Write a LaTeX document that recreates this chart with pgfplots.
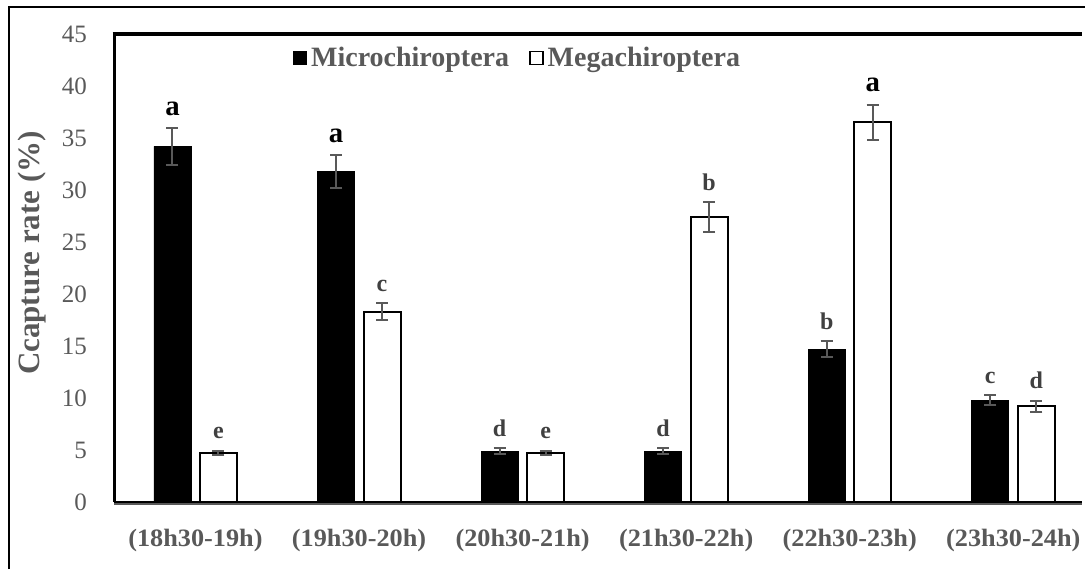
\documentclass[border=0pt]{standalone}
\usepackage{fontspec}
\setmainfont{Liberation Serif}
\usepackage{pgfplots}
\usepackage{pgfplotstable}
\pgfplotsset{compat=1.18}
\definecolor{tickgray}{HTML}{595959}
\definecolor{labgray}{HTML}{404040}
\pgfplotstableread{
x y err lab sc tk
0 34.2 1.8 a 1.2 100
1 31.8 1.6 a 1.2 100
2 4.9 0.3 d 1 75
3 4.9 0.3 d 1 75
4 14.7 0.8 b 1 75
5 9.8 0.5 c 1 75
}\micro
\pgfplotstableread{
x y err lab sc tk
0 4.7 0.2 e 1 75
1 18.3 0.8 c 1 75
2 4.7 0.2 e 1 75
3 27.4 1.4 b 1 75
4 36.5 1.7 a 1.2 100
5 9.2 0.5 d 1 75
}\mega
\begin{document}
\begin{tikzpicture}
\useasboundingbox (0,0) rectangle (542.5pt,284.5pt);
\draw[line width=1pt] (4.5pt,0) -- (4.5pt,281pt) -- (542.5pt,281pt);
\begin{axis}[
  at={(57pt,33.5pt)}, anchor=south west,
  scale only axis, width=484pt, height=234pt,
  ybar, bar width=18.5pt,
  xmin=-0.498, xmax=5.42, ymin=0, ymax=45,
  axis line style={draw=none},
  ytick={0,5,...,45},
  xtick={0,...,5},
  xticklabels={(18h30-19h),(19h30-20h),(20h30-21h),(21h30-22h),(22h30-23h),(23h30-24h)},
  major tick length=0pt,
  /pgf/number format/assume math mode=true,
  yticklabel style={font=\fontsize{12.5}{13}\selectfont, text=tickgray, xshift=-10pt},
  xticklabel style={font=\fontsize{12.5}{13}\selectfont\bfseries, text=tickgray, yshift=-10pt, xscale=1.05},
  ylabel={Ccapture rate\ (\%)},
  every axis y label/.style={at={([xshift=-41pt]axis description cs:0,0.532)}, rotate=90, anchor=center, font=\fontsize{15.5}{16}\selectfont\bfseries, text=tickgray},
  legend columns=2,
  legend style={draw=none, fill=none, at={(0.184,0.949)}, anchor=west, font=\fontsize{14}{15}\selectfont\bfseries, text=tickgray, /tikz/every even column/.append style={column sep=8pt}, inner sep=0pt},
  legend image code/.code={\draw[#1, line width=0.8pt] (0pt,-3.25pt) rectangle (6.5pt,3.25pt);},
  clip=false,
  point meta=explicit symbolic,
  visualization depends on={\thisrow{err} \as \err},
  visualization depends on={\thisrow{sc} \as \sc},
  visualization depends on={\thisrow{tk} \as \tk},
  nodes near coords,
]
\addplot[bar shift=-11.5pt, fill=black, draw=black,
  every node near coord/.style={anchor=south, inner sep=2pt, xshift=-11.5pt, yshift=\err*5.2pt+3.5pt, font=\fontsize{12}{13}\selectfont\bfseries, text=black!\tk, scale=\sc},
  error bars/.cd, y dir=both, y explicit,
  error bar style={color=tickgray, line width=1pt},
  error mark options={rotate=90, mark size=3pt, color=tickgray, line width=1pt}]
  table[x=x, y=y, y error=err, meta=lab] {\micro};
\addlegendentry{Microchiroptera}
\addplot[bar shift=11.5pt, fill=white, draw=black, line width=1pt,
  every node near coord/.style={anchor=south, inner sep=2pt, xshift=11.5pt, yshift=\err*5.2pt+3.5pt, font=\fontsize{12}{13}\selectfont\bfseries, text=black!\tk, scale=\sc},
  error bars/.cd, y dir=both, y explicit,
  error bar style={color=tickgray, line width=1pt},
  error mark options={rotate=90, mark size=3pt, color=tickgray, line width=1pt}]
  table[x=x, y=y, y error=err, meta=lab] {\mega};
\addlegendentry{Megachiroptera}
\draw[line width=1.5pt] (rel axis cs:0,0) -- (rel axis cs:0,1);
\draw[line width=2pt] ([xshift=-0.75pt]rel axis cs:0,1) -- (rel axis cs:1,1);
\draw[line width=0.6pt, tickgray] ([yshift=-1pt]rel axis cs:0,0) -- ([yshift=-1pt]rel axis cs:1,0);
\draw[line width=1.2pt] (rel axis cs:0,0) -- (rel axis cs:1,0);
\end{axis}
\end{tikzpicture}
\end{document}
